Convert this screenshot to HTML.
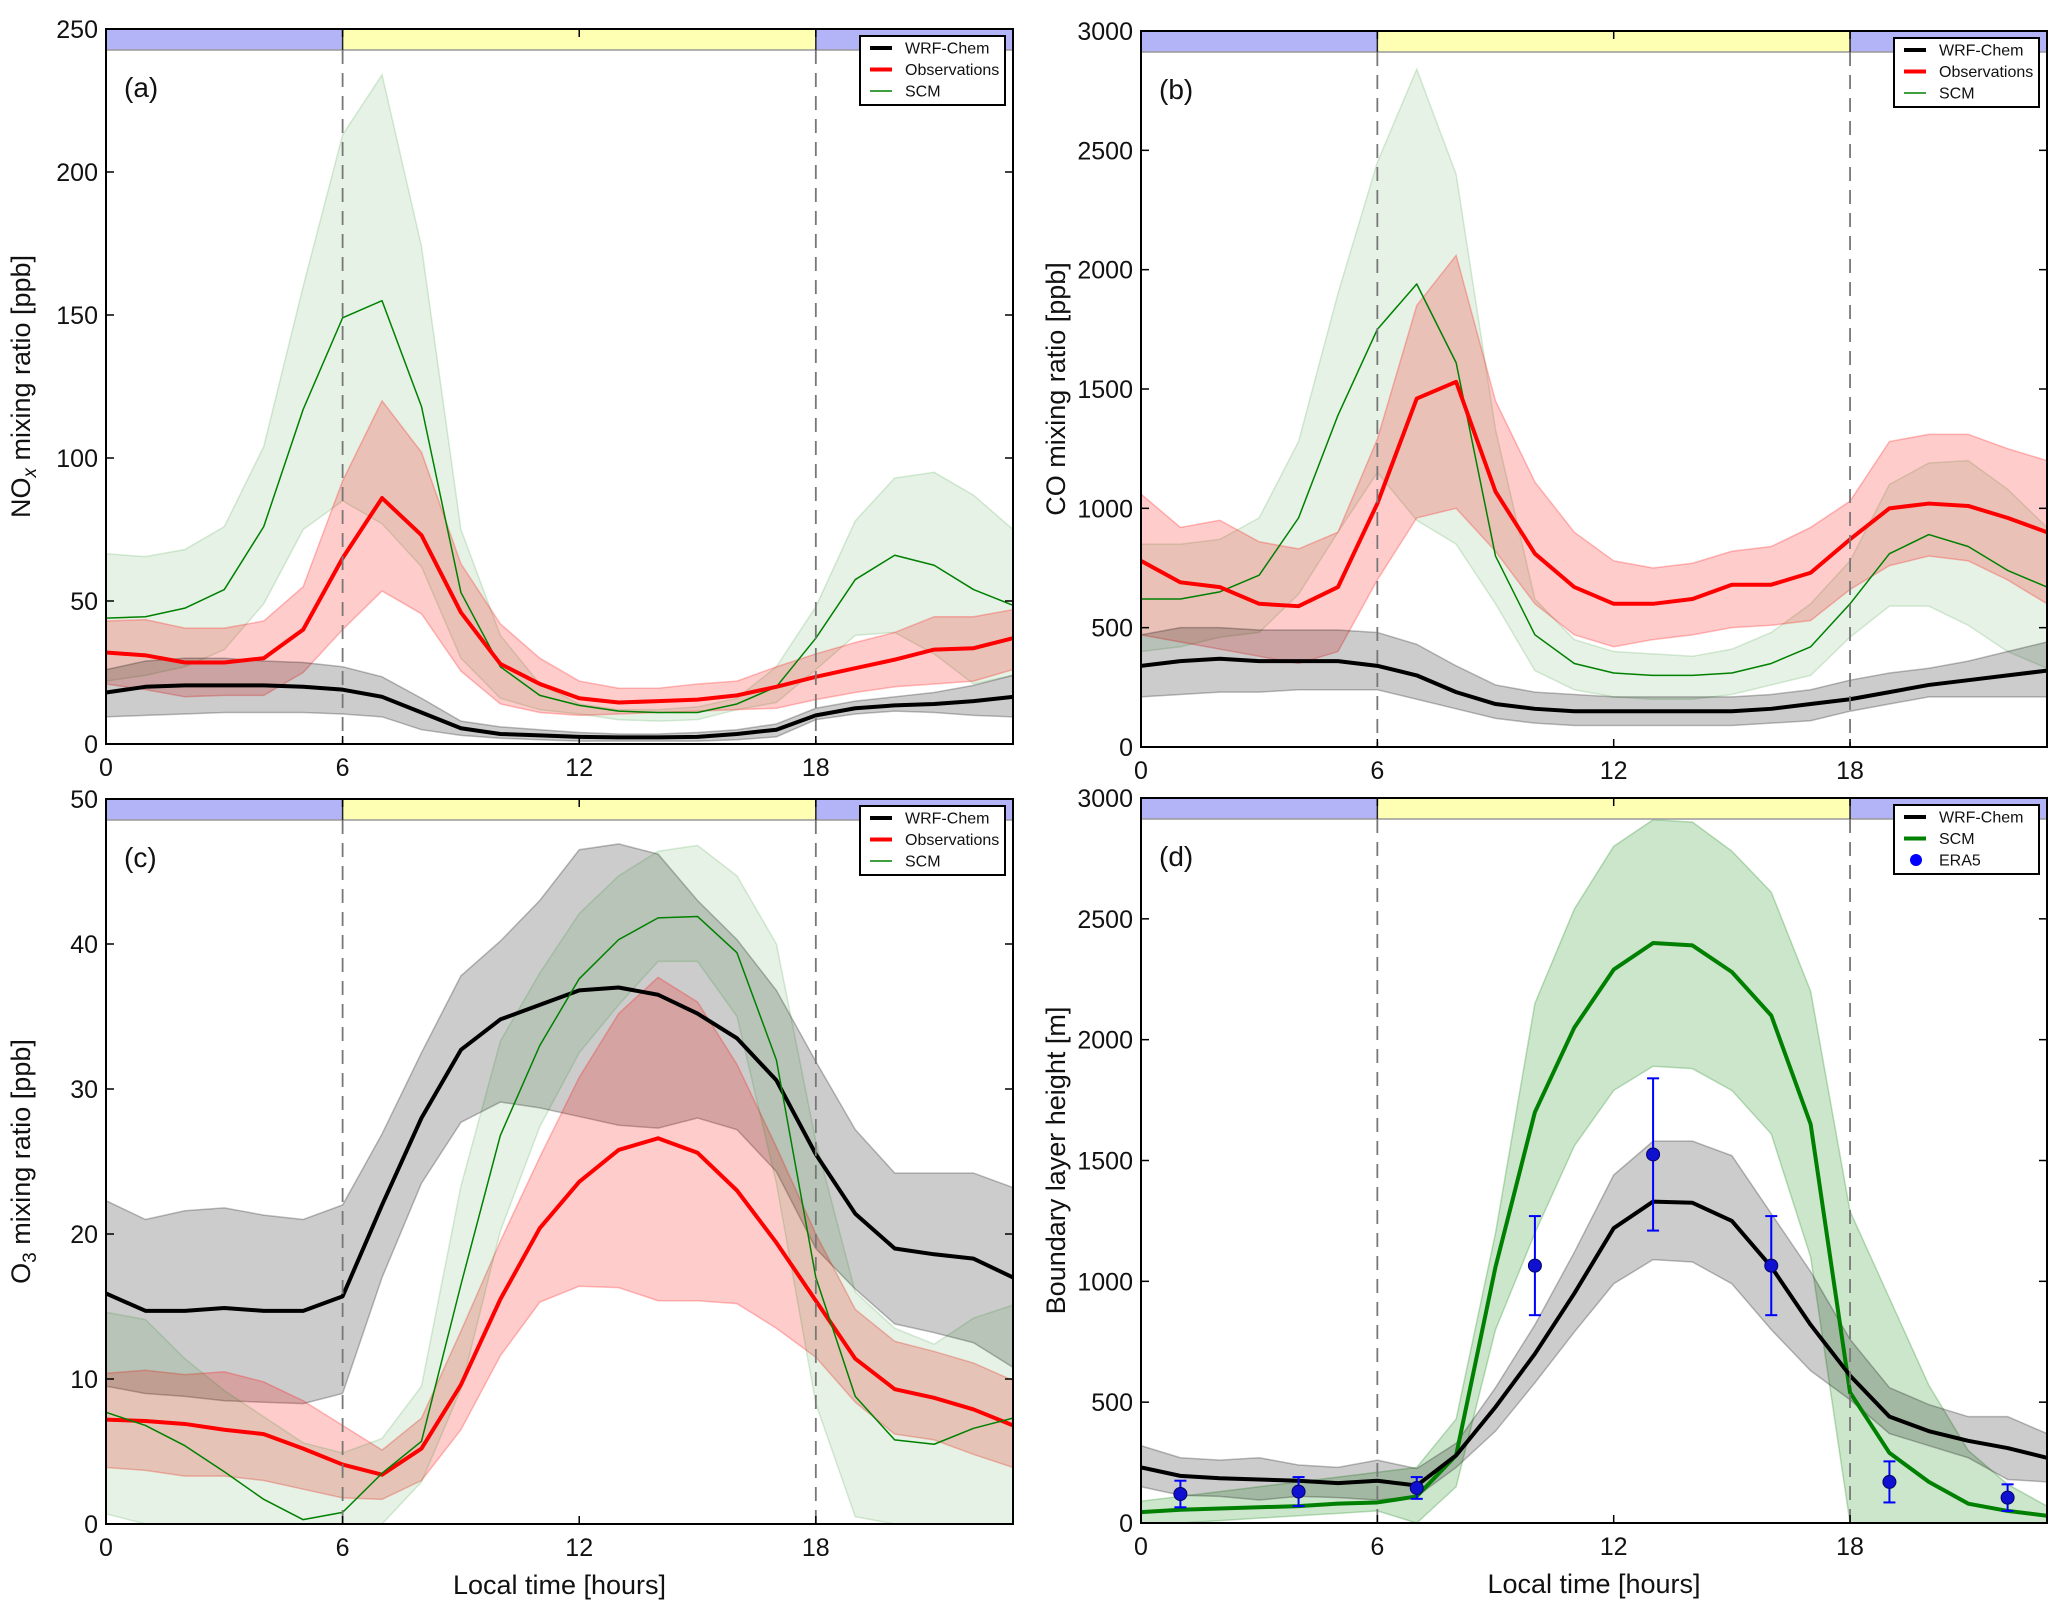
<!DOCTYPE html>
<html><head><meta charset="utf-8">
<style>
html,body{margin:0;padding:0;background:#fff;}
svg{display:block;font-family:"Liberation Sans","DejaVu Sans",sans-serif;}
</style></head>
<body>
<svg id="fig" width="2067" height="1612" viewBox="0 0 2067 1612" xmlns="http://www.w3.org/2000/svg"></svg>
<script>
// ---------- data ----------
const hours = [0,1,2,3,4,5,6,7,8,9,10,11,12,13,14,15,16,17,18,19,20,21,22,23];
const xTicks = [0,6,12,18];

// (a) NOx
const noxWrf    = [18,20,20.5,20.5,20.5,20,19,16.5,11,5.5,3.5,3,2.5,2.3,2.3,2.5,3.5,5,10,12.5,13.5,14,15,16.5];
const noxWrfLo  = [9.5,10,10.5,11,11,11,10.5,9.5,5,3,2,1.5,1,1,1,1,1.5,2.5,8.5,10.5,11.5,11,10,9.5];
const noxWrfHi  = [26,29,30,30,29,28.5,27,23.5,16,8,6,5,4,3.5,3.5,4,5,7,12.5,15,16.5,18,20.5,24];
const noxObs    = [32,31,28.5,28.5,30,40,65,86,73,46,28,21,16,14.5,15,15.5,17,20,23.5,26.5,29.5,33,33.5,37];
const noxObsLo  = [21,19,16.5,17,17,25,40,53.5,45.5,25.5,14,11,10,10.5,11,11.5,12,12.5,15.5,18,20,21,22,26];
const noxObsHi  = [43,43.5,40.5,40.5,43,55,92,120,102,63,42,30,22,19.5,19.5,21,22,27,31.5,35.5,39,44.5,44.5,47];
const noxScm    = [44,44.5,47.5,54,76,117,149,155,118,53,27,17,13.5,11.5,11,11,14,20,37,57.5,66,62.5,54,48.5];
const noxScmLo  = [22,24,27,33,49,75,85,77,62,30,16,12,10.5,8.5,8,8.5,12,14.5,26,38,39,31.5,21,24];
const noxScmHi  = [66.5,65.5,68,76,104,160,213,234,174,75,38,21,14,12,12,13,16,27,48,78,93,95,87,75];
const noxTicks  = [0,50,100,150,200,250];

// (b) CO
const coWrf    = [340,360,370,360,360,360,340,300,230,180,160,150,150,150,150,150,160,180,200,230,260,280,300,320];
const coWrfLo  = [210,220,230,230,240,240,240,200,160,120,100,90,90,90,90,90,100,110,150,180,210,210,210,210];
const coWrfHi  = [470,500,500,490,490,490,480,430,340,260,230,220,210,210,210,210,220,240,280,310,330,360,400,440];
const coObs    = [780,690,670,600,590,670,1020,1460,1530,1070,810,670,600,600,620,680,680,730,870,1000,1020,1010,960,900];
const coObsLo  = [470,440,410,380,350,400,700,960,1000,820,600,470,420,450,470,500,510,530,660,760,800,780,700,600];
const coObsHi  = [1060,920,950,860,830,900,1290,1850,2060,1450,1110,900,780,750,770,820,840,920,1030,1280,1310,1310,1250,1200];
const coScm    = [620,620,650,720,960,1390,1750,1940,1610,800,470,350,310,300,300,310,350,420,600,810,890,840,740,670];
const coScmLo  = [400,420,460,480,640,900,1150,950,850,600,320,240,210,200,200,220,260,300,460,590,590,510,400,330];
const coScmHi  = [850,850,870,960,1280,1900,2450,2840,2400,1330,620,450,400,390,380,410,480,600,780,1100,1190,1200,1080,920];
const coTicks  = [0,500,1000,1500,2000,2500,3000];

// (c) O3
const o3Wrf    = [15.9,14.7,14.7,14.9,14.7,14.7,15.7,22,28,32.7,34.8,35.8,36.8,37,36.5,35.2,33.5,30.6,25.5,21.4,19,18.6,18.3,17];
const o3WrfLo  = [9.5,9,8.8,8.5,8.4,8.3,9,17,23.5,27.7,29.1,28.7,28.1,27.5,27.3,28,27.2,24.3,19,16.2,13.8,13.2,12.5,10.8];
const o3WrfHi  = [22.3,21,21.6,21.8,21.3,21,22,26.9,32.5,37.8,40.2,43,46.5,46.9,46.2,43,40.3,36.8,31.9,27.2,24.2,24.2,24.2,23.2];
const o3Obs    = [7.2,7.1,6.9,6.5,6.2,5.2,4.1,3.4,5.2,9.6,15.5,20.4,23.6,25.8,26.6,25.6,23,19.4,15.4,11.4,9.3,8.7,7.9,6.8];
const o3ObsLo  = [3.9,3.7,3.3,3.3,3,2.4,1.8,1.7,3,6.5,11.6,15.3,16.4,16.3,15.4,15.4,15.2,13.5,11.5,8.4,6.2,5.8,4.8,3.9];
const o3ObsHi  = [10.4,10.6,10.3,10.5,9.8,8.5,6.8,5.1,7.3,13.3,19.5,25.3,30.8,35.2,37.7,36,31.7,26,20,14.8,12.6,11.9,11.1,9.9];
const o3Scm    = [7.7,6.8,5.4,3.6,1.7,0.3,0.8,3.5,5.7,16.5,26.8,33,37.6,40.3,41.8,41.9,39.4,32,17,8.8,5.8,5.5,6.6,7.3];
const o3ScmLo  = [0.7,0,0,0,0,0,0,0,2.9,9.3,20.2,27.4,32.5,35.8,38.8,38.8,35,23.5,8.3,0.5,0,0,0,0];
const o3ScmHi  = [14.6,14.1,11.4,9.2,7.4,5.6,4.9,5.9,9.5,23.3,33.3,38,42.1,44.7,46.4,46.8,44.7,40,26.4,16,13.5,12.4,14.2,15.1];
const o3Ticks  = [0,10,20,30,40,50];

// (d) BLH
const blhWrf    = [230,195,185,180,175,165,175,155,280,480,700,950,1220,1330,1325,1250,1060,820,610,440,380,340,310,270];
const blhWrfLo  = [150,115,110,95,110,105,95,110,230,380,580,790,990,1090,1080,990,800,630,510,370,320,270,180,170];
const blhWrfHi  = [320,270,260,270,240,230,260,225,330,560,820,1120,1440,1580,1580,1520,1280,1040,760,560,490,440,440,370];
const blhScm    = [45,55,60,65,70,80,85,110,280,1060,1700,2050,2290,2400,2390,2280,2100,1650,540,290,170,80,50,30];
const blhScmLo  = [0,0,10,20,30,40,50,0,150,800,1200,1560,1790,1890,1880,1790,1610,1100,0,0,0,0,0,0];
const blhScmHi  = [90,110,130,150,170,190,210,230,430,1200,2150,2540,2800,2910,2900,2780,2610,2200,1290,930,570,300,160,70];
const era5Hours = [1,4,7,10,13,16,19,22];
const era5Vals  = [120,130,145,1065,1525,1065,170,105];
const era5Err   = [55,60,45,205,315,205,85,55];
const blhTicks  = [0,500,1000,1500,2000,2500,3000];

// ---------- drawing ----------
const NS = "http://www.w3.org/2000/svg";
const svg = document.getElementById("fig");
function mk(tag, attrs, parent){
  const e = document.createElementNS(NS, tag);
  for (const k in attrs) e.setAttribute(k, attrs[k]);
  (parent||svg).appendChild(e);
  return e;
}

function panel(cfg){
  const g = mk("g", {});
  
  
  const L=cfg.l, R=cfg.r, T=cfg.t, B=cfg.b;
  const xs = h => L + (h/23)*(R-L);
  const ys = v => B - (v/cfg.ymax)*(B-T);
  const clip = "clip-"+cfg.id;
  const cp = mk("clipPath", {id:clip}, g);
  mk("rect", {x:L, y:T, width:R-L, height:B-T}, cp);
  const plot = mk("g", {"clip-path":"url(#"+clip+")"}, g);

  function band(lo, hi, fill, stroke, name){
    let d = "M" + hours.map((h,i)=>xs(h)+","+ys(hi[i])).join(" L");
    d += " L" + hours.slice().reverse().map((h,j)=>{const i=hours.length-1-j;return xs(h)+","+ys(lo[i]);}).join(" L") + " Z";
    const p = mk("path", {d:d, fill:fill, stroke:stroke, "stroke-width":1.5}, plot);
    
    
  }
  function line(vals, color, w, name){
    const p = mk("polyline", {points: hours.map((h,i)=>xs(h)+","+ys(vals[i])).join(" "), fill:"none", stroke:color, "stroke-width":w, "stroke-linejoin":"round"}, plot);
    
    
  }
  cfg.series.forEach(s => band(s.lo, s.hi, s.fill, s.edge, s.key+"-band"));
  cfg.series.forEach(s => line(s.v, s.color, s.w, s.key+"-line"));

  if (cfg.era5){
    era5Hours.forEach((h,i)=>{
      const x = xs(h);
      const eb = mk("g", {}, plot);
      
      
      mk("line", {x1:x, x2:x, y1:ys(era5Vals[i]-era5Err[i]), y2:ys(era5Vals[i]+era5Err[i]), stroke:"#0000ff", "stroke-width":2}, eb);
      mk("line", {x1:x-6, x2:x+6, y1:ys(era5Vals[i]-era5Err[i]), y2:ys(era5Vals[i]-era5Err[i]), stroke:"#0000ff", "stroke-width":2}, eb);
      mk("line", {x1:x-6, x2:x+6, y1:ys(era5Vals[i]+era5Err[i]), y2:ys(era5Vals[i]+era5Err[i]), stroke:"#0000ff", "stroke-width":2}, eb);
      mk("circle", {cx:x, cy:ys(era5Vals[i]), r:6.5, fill:"#1010d0", stroke:"#000066", "stroke-width":1}, eb);
    });
  }

  const barH = 21;
  const bar = mk("g", {}, g);
  
  
  mk("rect", {x:L, y:T, width:xs(6)-L, height:barH, fill:"#b3b3f7"}, bar);
  mk("rect", {x:xs(6), y:T, width:xs(18)-xs(6), height:barH, fill:"#ffffb3"}, bar);
  mk("rect", {x:xs(18), y:T, width:R-xs(18), height:barH, fill:"#b3b3f7"}, bar);
  mk("line", {x1:L, x2:R, y1:T+barH, y2:T+barH, stroke:"#999", "stroke-width":1.5}, bar);
  [6,18].forEach(h=>{
    mk("line", {x1:xs(h), x2:xs(h), y1:T, y2:T+barH, stroke:"#222", "stroke-width":1.5}, bar);
    const dl = mk("line", {x1:xs(h), x2:xs(h), y1:T+barH, y2:B, stroke:"#777", "stroke-width":1.8, "stroke-dasharray":"14,9"}, g);
    
    
  });

  mk("rect", {x:L, y:T, width:R-L, height:B-T, fill:"none", stroke:"#000", "stroke-width":2}, g);

  const tk = 8;
  xTicks.forEach(h=>{
    const x = xs(h);
    mk("line", {x1:x, x2:x, y1:B, y2:B-tk, stroke:"#000", "stroke-width":1.5}, g);
    mk("line", {x1:x, x2:x, y1:T, y2:T+tk, stroke:"#000", "stroke-width":1.5}, g);
    const t = mk("text", {x:x, y:B+32, "text-anchor":"middle", "font-size":25, fill:"#111"}, g);
    t.textContent = h;
    
    
  });
  cfg.yticks.forEach(v=>{
    const y = ys(v);
    mk("line", {x1:L, x2:L+tk, y1:y, y2:y, stroke:"#000", "stroke-width":1.5}, g);
    mk("line", {x1:R, x2:R-tk, y1:y, y2:y, stroke:"#000", "stroke-width":1.5}, g);
    const t = mk("text", {x:L-8, y:y+9, "text-anchor":"end", "font-size":25, fill:"#111"}, g);
    t.textContent = v;
    
    
  });

  const pl = mk("text", {x:L+18, y:T+68, "font-size":28, fill:"#111"}, g);
  pl.textContent = cfg.label;
  
  

  const yt = mk("text", {x:0, y:0, "text-anchor":"middle", "font-size":27, fill:"#111", transform:"translate("+(L-76)+","+((T+B)/2)+") rotate(-90)"}, g);
  yt.innerHTML = cfg.ytitle;
  
  

  if (cfg.xtitle){
    const xt = mk("text", {x:(L+R)/2, y:B+70, "text-anchor":"middle", "font-size":27, fill:"#111"}, g);
    xt.textContent = "Local time [hours]";
    
    
  }

  const lg = mk("g", {}, g);
  
  
  const lx = R-153, ly = T+7, lw = 145, lh = 69;
  mk("rect", {x:lx, y:ly, width:lw, height:lh, fill:"#fff", stroke:"#000", "stroke-width":2}, lg);
  cfg.legend.forEach((e,i)=>{
    const yy = ly + 12 + i*21.5;
    const le = mk("g", {}, lg);
    
    
    if (e.dot){
      mk("circle", {cx:lx+22, cy:yy, r:6, fill:"#0000ff"}, le);
    } else {
      mk("line", {x1:lx+10, x2:lx+32, y1:yy, y2:yy, stroke:e.color, "stroke-width":e.w}, le);
    }
    const t = mk("text", {x:lx+45, y:yy+5.5, "font-size":16, fill:"#111"}, le);
    t.textContent = e.text;
  });
}

const G_BAND_LIGHT = "rgba(0,128,0,0.1)", G_EDGE_LIGHT = "rgba(0,128,0,0.15)";
const K_BAND = "rgba(0,0,0,0.2)", K_EDGE = "rgba(0,0,0,0.25)";
const R_BAND = "rgba(255,0,0,0.2)", R_EDGE = "rgba(255,0,0,0.25)";
const chemLegend = [{text:"WRF-Chem",color:"#000",w:4},{text:"Observations",color:"#f00",w:4},{text:"SCM",color:"#008000",w:1.5}];

panel({id:"a", name:"panel-nox", label:"(a)", l:106, r:1013, t:29, b:744, ymax:250, yticks:noxTicks,
  ytitle:'NO<tspan font-size="19" dy="6" font-style="italic">x</tspan><tspan dy="-6"> mixing ratio [ppb]</tspan>',
  series:[
    {key:"scm", v:noxScm, lo:noxScmLo, hi:noxScmHi, fill:G_BAND_LIGHT, edge:G_EDGE_LIGHT, color:"#008000", w:1.5},
    {key:"obs", v:noxObs, lo:noxObsLo, hi:noxObsHi, fill:R_BAND, edge:R_EDGE, color:"#ff0000", w:4},
    {key:"wrf", v:noxWrf, lo:noxWrfLo, hi:noxWrfHi, fill:K_BAND, edge:K_EDGE, color:"#000", w:4}
  ], legend:chemLegend});

panel({id:"b", name:"panel-co", label:"(b)", l:1141, r:2047, t:31, b:747, ymax:3000, yticks:coTicks,
  ytitle:'CO mixing ratio [ppb]',
  series:[
    {key:"scm", v:coScm, lo:coScmLo, hi:coScmHi, fill:G_BAND_LIGHT, edge:G_EDGE_LIGHT, color:"#008000", w:1.5},
    {key:"obs", v:coObs, lo:coObsLo, hi:coObsHi, fill:R_BAND, edge:R_EDGE, color:"#ff0000", w:4},
    {key:"wrf", v:coWrf, lo:coWrfLo, hi:coWrfHi, fill:K_BAND, edge:K_EDGE, color:"#000", w:4}
  ], legend:chemLegend});

panel({id:"c", name:"panel-o3", label:"(c)", l:106, r:1013, t:799, b:1524, ymax:50, yticks:o3Ticks, xtitle:true,
  ytitle:'O<tspan font-size="19" dy="6">3</tspan><tspan dy="-6"> mixing ratio [ppb]</tspan>',
  series:[
    {key:"wrf", v:o3Wrf, lo:o3WrfLo, hi:o3WrfHi, fill:K_BAND, edge:K_EDGE, color:"#000", w:4},
    {key:"obs", v:o3Obs, lo:o3ObsLo, hi:o3ObsHi, fill:R_BAND, edge:R_EDGE, color:"#ff0000", w:4},
    {key:"scm", v:o3Scm, lo:o3ScmLo, hi:o3ScmHi, fill:G_BAND_LIGHT, edge:G_EDGE_LIGHT, color:"#008000", w:1.5}
  ], legend:chemLegend});

panel({id:"d", name:"panel-blh", label:"(d)", l:1141, r:2047, t:798, b:1523, ymax:3000, yticks:blhTicks, xtitle:true, era5:true,
  ytitle:'Boundary layer height [m]',
  series:[
    {key:"scm", v:blhScm, lo:blhScmLo, hi:blhScmHi, fill:"rgba(0,128,0,0.2)", edge:"rgba(0,128,0,0.25)", color:"#008000", w:4},
    {key:"wrf", v:blhWrf, lo:blhWrfLo, hi:blhWrfHi, fill:K_BAND, edge:K_EDGE, color:"#000", w:4}
  ], legend:[{text:"WRF-Chem",color:"#000",w:4},{text:"SCM",color:"#008000",w:4},{text:"ERA5",dot:true}]});
</script>
</body></html>
